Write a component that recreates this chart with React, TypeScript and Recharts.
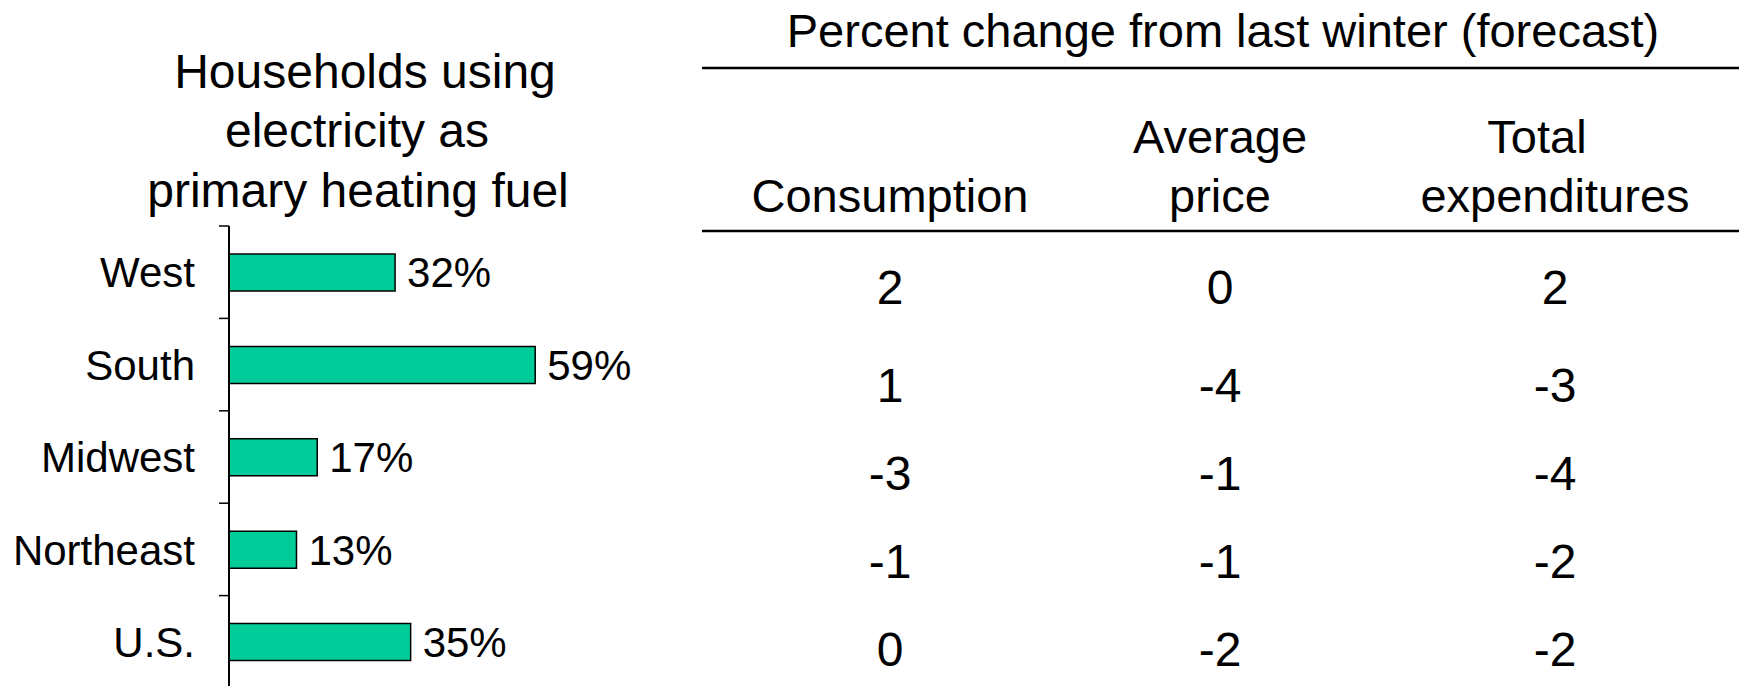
import { Bar, BarChart, LabelList, XAxis, YAxis } from "recharts";

const regions = ["West", "South", "Midwest", "Northeast", "U.S."];
const electricShare = [32, 59, 17, 13, 35];
const consumptionChange = [2, 1, -3, -1, 0];
const priceChange = [0, -4, -1, -1, -2];
const expenditureChange = [2, -3, -4, -2, -2];

const chartTitle = ["Households using", "electricity as", "primary heating fuel"];
const tableTitle = "Percent change from last winter (forecast)";
const columnHeaders = [["", "Consumption"], ["Average", "price"], ["Total", "expenditures"]];

const FONT = '"Liberation Sans", Arial, Helvetica, sans-serif';
const PLOT_TOP = 226;
const PLOT_H = 462;
const AXIS_X = 229;
const BAND = PLOT_H / regions.length;

// table layout
const colX = [890, 1220, 1555];
const topLineX = [890, 1220, 1537];
const rowBaselines = [304, 402, 490, 578, 666];

const data = regions.map((r, i) => ({ region: r, share: electricShare[i] }));
const tableCols = [consumptionChange, priceChange, expenditureChange];

function RegionTick(props: any) {
  const { payload, index } = props;
  const y = payload.coordinate;
  return (
    <g>
      <line x1={AXIS_X - 10} x2={AXIS_X} y1={y - BAND / 2} y2={y - BAND / 2} stroke="#000" strokeWidth={1.5} />
      {index === regions.length - 1 && (
        <line x1={AXIS_X - 10} x2={AXIS_X} y1={y + BAND / 2} y2={y + BAND / 2} stroke="#000" strokeWidth={1.5} />
      )}
      <text x={195} y={y} dy="0.36em" textAnchor="end" fontSize={42} fill="#000" fontFamily={FONT}>
        {payload.value}
      </text>
    </g>
  );
}

export default function App() {
  return (
    <div
      style={{
        position: "absolute",
        left: 0,
        top: 0,
        width: 1739,
        height: 686,
        overflow: "hidden",
        background: "#fff",
        fontFamily: FONT,
      }}
    >
      <div style={{ position: "absolute", left: 0, top: 0 }}>
        <BarChart
          width={800}
          height={700}
          data={data}
          layout="vertical"
          margin={{ top: PLOT_TOP, right: 52, bottom: 700 - PLOT_TOP - PLOT_H, left: 0 }}
          barSize={37}
          style={{ fontFamily: FONT }}
        >
          <XAxis type="number" domain={[0, 100]} hide />
          <YAxis
            type="category"
            dataKey="region"
            width={AXIS_X}
            axisLine={{ stroke: "#000", strokeWidth: 2 }}
            tickLine={false}
            tick={<RegionTick />}
            interval={0}
          />
          <Bar dataKey="share" fill="#00CC99" stroke="#000" strokeWidth={1.5} isAnimationActive={false}>
            <LabelList
              dataKey="share"
              position="right"
              offset={12}
              formatter={(v: any) => `${v}%`}
              fill="#000"
              fontSize={42}
              fontFamily={FONT}
            />
          </Bar>
        </BarChart>
      </div>

      <svg
        width={1739}
        height={686}
        style={{ position: "absolute", left: 0, top: 0, pointerEvents: "none" }}
        fontFamily={FONT}
      >
        <text x={365} y={88} textAnchor="middle" fontSize={48} fill="#000">{chartTitle[0]}</text>
        <text x={357} y={147} textAnchor="middle" fontSize={48} fill="#000">{chartTitle[1]}</text>
        <text x={358} y={207} textAnchor="middle" fontSize={48} fill="#000">{chartTitle[2]}</text>

        <text x={1223} y={47} textAnchor="middle" fontSize={47} fill="#000">{tableTitle}</text>
        <line x1={702} x2={1739} y1={68} y2={68} stroke="#000" strokeWidth={2.5} />
        {columnHeaders.map((lines, c) => (
          <g key={c}>
            <text x={topLineX[c]} y={153} textAnchor="middle" fontSize={47} fill="#000">{lines[0]}</text>
            <text x={colX[c]} y={212} textAnchor="middle" fontSize={47} fill="#000">{lines[1]}</text>
          </g>
        ))}
        <line x1={702} x2={1739} y1={231} y2={231} stroke="#000" strokeWidth={2.5} />
        {tableCols.map((col, c) =>
          col.map((v, r) => (
            <text key={`${c}-${r}`} x={colX[c]} y={rowBaselines[r]} textAnchor="middle" fontSize={48} fill="#000">
              {v}
            </text>
          ))
        )}
      </svg>
    </div>
  );
}
